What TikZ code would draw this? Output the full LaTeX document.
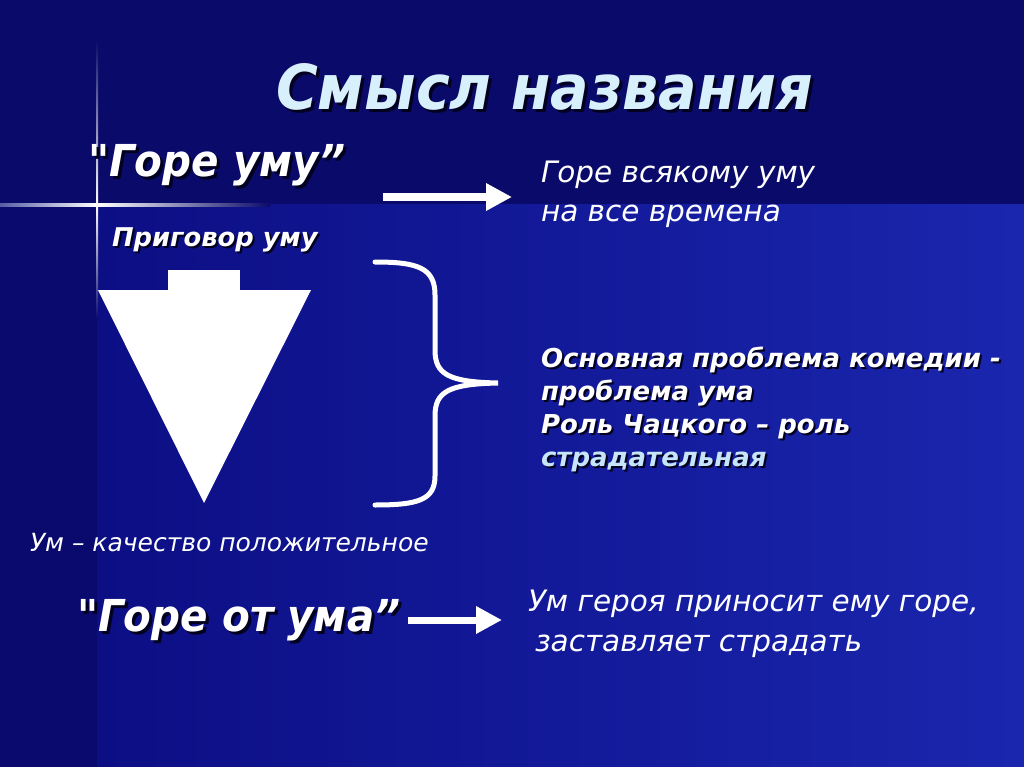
\documentclass[tikz,border=0pt]{standalone}
\usepackage{fontspec}
\setmainfont{DejaVu Sans}
\newfontfamily\headfont{DejaVu Sans}[FakeStretch=0.92,BoldItalicFont={DejaVu Sans Bold Oblique},ItalicFont={DejaVu Sans Oblique}]
\newfontfamily\verdfont{DejaVu Sans}[BoldItalicFont={DejaVu Sans Bold Oblique},ItalicFont={DejaVu Sans Oblique}]
\usetikzlibrary{arrows.meta}
\definecolor{bgtop}{HTML}{0A0A6A}
\definecolor{bgleft}{HTML}{09096E}
\definecolor{bgmid}{HTML}{0C0E84}
\definecolor{bgright}{HTML}{1A26AE}
\definecolor{titlecol}{HTML}{D8F0FC}
\definecolor{lightcyan}{HTML}{C6E4FA}
\definecolor{shadowcol}{HTML}{020220}
\definecolor{flare}{HTML}{C8D8FF}
\newcommand{\shtxt}[2][3]{\makebox[0pt][l]{\hspace{#1pt}\raisebox{-#1pt}{\color{shadowcol}#2}}#2}
\tikzset{
  txt/.style={anchor=base west, inner sep=0pt, outer sep=0pt, text=white},
  bigbold/.style={txt, font={\headfont\bfseries\itshape\fontsize{44}{52}\selectfont}},
  plainit/.style={txt, font={\verdfont\itshape\fontsize{29.5}{39.5}\selectfont}},
  verdbold/.style={txt, font={\verdfont\bfseries\itshape\fontsize{26}{33}\selectfont}},
  blockarrow/.style={draw=white, line width=#1, -{Triangle[length=26pt,width=26pt]}},
}
\begin{document}
\begin{tikzpicture}[x=1pt,y=-1pt]
\useasboundingbox (0,0) rectangle (1024,767);
% background
\fill[bgtop] (0,0) rectangle (1024,767);
\fill[bgleft] (0,205) rectangle (97,767);
\shade[left color=bgmid, right color=bgright] (97,205) rectangle (1024,767);
% lens flare
\shade[left color=bgtop!60!flare, right color=white] (0,203.6) rectangle (97,206.4);
\shade[left color=white, right color=bgtop] (97,203.6) rectangle (270,206.4);
\shade[top color=bgtop, bottom color=white] (96,40) rectangle (98.2,205);
\shade[top color=white, bottom color=bgleft] (96,205) rectangle (98.2,320);
\fill[white] (97,205) circle (2.5);

% title
\node[txt, text=titlecol, font={\headfont\bfseries\itshape\fontsize{62}{74}\selectfont}] (title) at (276,110) {\shtxt{Смысл названия}};

% top row
\node[bigbold] (goreumu) at (88,177) {\shtxt{"Горе уму”}};
\coordinate (a1s) at (383,197);
\coordinate (a1e) at (512,197);
\draw[blockarrow=8] (a1s) -- (a1e);
\node[plainit, align=left] (vsyak) at (541,222) {Горе всякому уму\\на все времена};

\node[txt, font={\verdfont\bfseries\itshape\fontsize{25.8}{30}\selectfont}] (prigovor) at (112,246) {\shtxt[2]{Приговор уму}};

% shape
\fill[white] (168,270) rectangle (240,291);
\fill[white] (98,290) -- (311,290) -- (204,503) -- cycle;

% brace
\draw[white, line width=5, line cap=round]
  (375,262) .. controls (418,262) and (435,268) .. (435,295) -- (435,350)
  .. controls (435,374) and (448,382) .. (498,383)
  .. controls (448,384) and (435,392) .. (435,416) -- (435,476)
  .. controls (435,500) and (418,505) .. (375,505);

% block text
\node[verdbold, align=left] (block) at (541,466) {\shtxt[2]{Основная проблема комедии -}\\\shtxt[2]{проблема ума}\\\shtxt[2]{Роль Чацкого – роль}\\\textcolor{lightcyan}{\shtxt[2]{страдательная}}};

% bottom
\node[txt, font={\verdfont\itshape\fontsize{25}{30}\selectfont}] (um) at (30,551) {Ум – качество положительное};
\node[bigbold] (goreotuma) at (77,631) {\shtxt{"Горе от ума”}};
\coordinate (a2s) at (408,620);
\coordinate (a2e) at (502,620);
\draw[blockarrow=7] (a2s) -- (a2e);
\node[plainit] (geroj1) at (528,611) {Ум героя приносит ему горе,};
\node[plainit] (geroj2) at (535,651) {заставляет страдать};
\end{tikzpicture}
\end{document}
